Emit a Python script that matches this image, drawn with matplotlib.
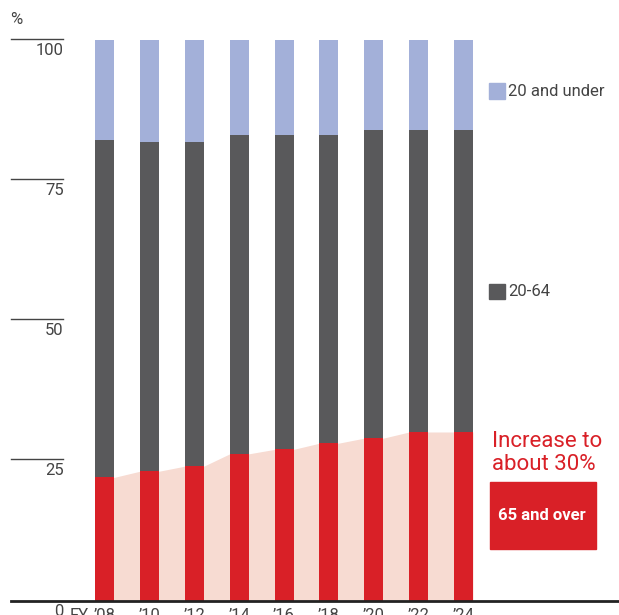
import numpy as np
import matplotlib
matplotlib.use("Agg")
import matplotlib.pyplot as plt
from matplotlib.patches import Rectangle

plt.rcParams['font.family'] = ['Roboto', 'DejaVu Sans']

# data (%)
years = ["’08", "’10", "’12", "’14", "’16", "’18", "’20", "’22", "’24"]
over_65 = [22.0, 23.1, 24.0, 26.2, 27.0, 28.1, 29.0, 30.1, 30.1]
age_20_64 = [60.1, 58.8, 57.9, 56.8, 56.0, 54.9, 55.0, 53.9, 53.9]
under_20 = [17.9, 18.1, 18.1, 17.0, 17.0, 17.0, 16.0, 16.0, 16.0]
y_ticks = [0, 25, 50, 75, 100]

RED = "#D92027"
GRAY = "#59595B"
BLUE = "#A3B0D9"
PINK = "#F7DBD2"
TXT = "#444444"

W, H = 619, 615
fig = plt.figure(figsize=(W / 100, H / 100), dpi=100)
y0_px, y100_px = 600.8, 40.0
ax = fig.add_axes([0, (H - y0_px) / H, 1, (y0_px - y100_px) / H])
step = 44.875
first = 104.5
ax.set_xlim(-first / step, (W - first) / step)
ax.set_ylim(0, 100)
ax.axis("off")

x = np.arange(len(years))
bw = 19 / step

# pink band behind the red bars
xs, ys = [], []
for xi, v in zip(x, over_65):
    xs += [xi - bw / 2, xi + bw / 2]
    ys += [v, v]
ax.fill_between(xs, 0, ys, color=PINK, lw=0, zorder=1)

b1 = np.array(over_65)
b2 = b1 + np.array(age_20_64)
ax.bar(x, over_65, width=bw, color=RED, zorder=2)
ax.bar(x, age_20_64, bottom=b1, width=bw, color=GRAY, zorder=2)
ax.bar(x, under_20, bottom=b2, width=bw, color=BLUE, zorder=2)

# y "axis": short lines with labels under them
tr = ax.get_yaxis_transform()
for t in y_ticks:
    if t > 0:
        ax.plot([11 / W, 63 / W], [t + 0.25, t + 0.25], color="#444444", lw=1,
                transform=tr, clip_on=False)
    ax.text(63.5 / W, t - 0.5, str(t), transform=tr, ha="right", va="top",
            fontsize=12, color=TXT)
ax.plot([11 / W, 1], [0, 0], color="#222222", lw=2, transform=tr,
        clip_on=False, zorder=3)
ax.text(10 / W, 102.3, "%", transform=tr, ha="left", va="bottom",
        fontsize=12, color=TXT)

# year labels
for xi, lab in zip(x, years):
    ax.text(xi, -1.3, lab, ha="center", va="top", fontsize=12,
            color=TXT, clip_on=False)
ax.text(89 / W, -1.3, "FY", transform=tr, ha="right", va="top",
        fontsize=12, color=TXT)

# legend-like labels on the right
sq = 15.5
for lab, col, cy in [("20 and under", BLUE, 91), ("20-64", GRAY, 291.5)]:
    fig.patches.append(Rectangle((489 / W, (H - cy - sq / 2) / H), sq / W, sq / H,
                                 transform=fig.transFigure, color=col))
    fig.text(508 / W, (H - cy) / H, lab, ha="left", va="center",
             fontsize=12, color=TXT)

fig.text(492 / W, (H - 453) / H, "Increase to\nabout 30%", ha="left",
         va="center", fontsize=16, color=RED, linespacing=1.15)
fig.patches.append(Rectangle((490 / W, (H - 549) / H), 106 / W, 67 / H,
                             transform=fig.transFigure, color=RED))
fig.text(542 / W, (H - 515.5) / H, "65 and over", ha="center", va="center",
         fontsize=12, color="white", fontweight="bold")

fig.savefig("out.png", dpi=100, facecolor="white")
